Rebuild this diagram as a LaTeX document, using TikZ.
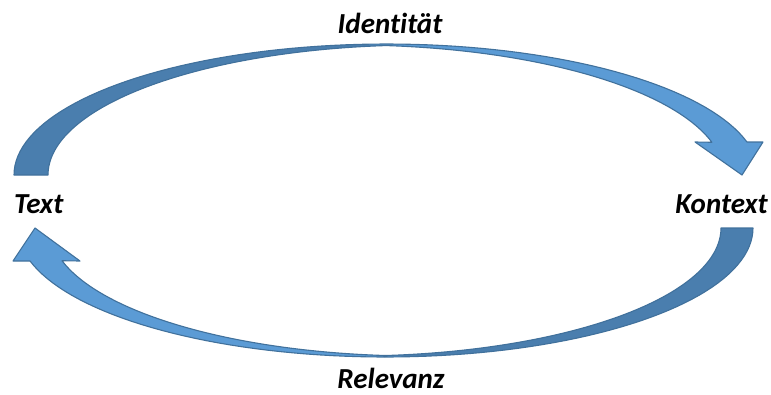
\documentclass[tikz,border=0pt]{standalone}
\usepackage{fontspec}
\setmainfont{Carlito}[Ligatures=NoCommon]
\begin{document}
\begin{tikzpicture}[x=1pt,y=-1pt,
  backface/.style={fill=arrowdark},
  frontface/.style={fill=arrowlight},
  rim/.style={draw=arrowrim,line width=1.1pt,line join=round},
  lbl/.style={inner sep=0pt,font=\fontsize{29}{31}\selectfont\bfseries\itshape},
  % upper curved arrow: outer rim E1, inner rims E2 (front) and E3 (back)
  E1/.style={insert path={plot[domain=#1,samples=80,variable=\t] ({386.5+372.5*cos(\t)},{175-131*sin(\t)})}},
  lE2/.style={insert path={-- plot[domain=#1,samples=80,variable=\t] ({351.4+372.5*cos(\t)},{175-130*sin(\t)})}},
  lE3/.style={insert path={-- plot[domain=#1,samples=80,variable=\t] ({420.5+372.5*cos(\t)},{175-130*sin(\t)})}},
  % lower curved arrow: outer rim B1, inner rims B2 (front) and B3 (back)
  B1/.style={insert path={plot[domain=#1,samples=80,variable=\t] ({385.4+367.6*cos(\t)},{228+129*sin(\t)})}},
  lB2/.style={insert path={-- plot[domain=#1,samples=80,variable=\t] ({417.4+367.6*cos(\t)},{228+128*sin(\t)})}},
  lB3/.style={insert path={-- plot[domain=#1,samples=80,variable=\t] ({353.4+367.6*cos(\t)},{228+128*sin(\t)})}}]
\definecolor{arrowdark}{HTML}{4A7EAE}
\definecolor{arrowlight}{HTML}{5B9BD5}
\definecolor{arrowrim}{HTML}{41719C}
\useasboundingbox (0,0) rectangle (771,394);
% upper arrow
\fill[backface] [E1=180:87.38] [lE3=92.62:180] -- cycle;
\fill[frontface] [E1=92.69:14.59] -- (763,142) -- (742,175) -- (695,142)
  [lE2=14.59:87.3] -- cycle;
\draw[rim] [E1=180:14.59] -- (763,142) -- (742,175) -- (695,142)
  [lE2=14.59:84.67] [lE3=95.31:180] -- cycle;
% lower arrow
\fill[backface] [B1=0:92.5] [lB3=87.5:0] -- cycle;
\fill[frontface] [B1=87.5:165.18] -- (13,261) -- (35,228) -- (80,261)
  [lB2=165.18:92.5] -- cycle;
\draw[rim] [B1=0:165.18] -- (13,261) -- (35,228) -- (80,261)
  [lB2=165.18:95] [lB3=85:0] -- cycle;
% labels
\node[lbl,anchor=base] (identitaet) at (390,33) {Identität};
\node[lbl,anchor=base west] (text) at (14,213) {Text};
\node[lbl,anchor=base east] (kontext) at (768,213) {Kontext};
\node[lbl,anchor=base] (relevanz) at (391,388) {Relevanz};
\end{tikzpicture}
\end{document}
